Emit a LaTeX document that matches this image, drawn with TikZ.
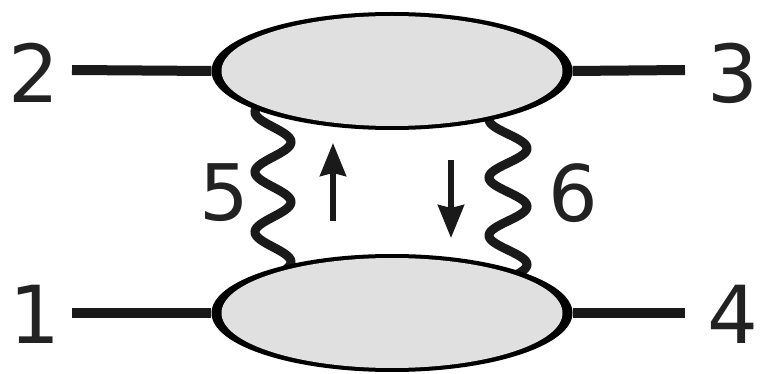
\documentclass[tikz,border=0pt]{standalone}
\usepackage{fontspec}
\setmainfont{DejaVu Sans}
\usetikzlibrary{shapes.geometric,arrows.meta}
\definecolor{blobfill}{RGB}{224,224,224}
\definecolor{ink}{RGB}{26,26,26}
\definecolor{txt}{RGB}{34,34,34}
\tikzset{
  blob/.style={ellipse, fill=black, minimum width=361pt, minimum height=118pt, inner sep=0pt},
  blobin/.style={ellipse, fill=blobfill, minimum width=341pt, minimum height=110pt, inner sep=0pt},
  leg/.style={draw=ink, line width=10pt},
  num/.style={text=txt, font=\fontsize{80}{80}\selectfont, inner sep=0pt, anchor=center},
  small/.style={text=txt, font=\fontsize{78}{78}\selectfont, inner sep=0pt, anchor=center},
  wave/.style={draw=ink, line width=9pt, line cap=round},
  mom/.style={draw=ink, line width=5.5pt, -{Stealth[length=33pt,width=26pt,inset=3pt]}}
}
\begin{document}
\begin{tikzpicture}[x=1pt,y=-1pt]
\useasboundingbox (0,0) rectangle (761,374);
% wavy lines (drawn first, under the blobs)
\coordinate (w5a) at (273,97);
\coordinate (w6a) at (508,105);
\begin{scope}[shift={(w5a)}]
  \draw[wave] plot[domain=0:180, samples=160, smooth] ({-18*sin(6*\x)}, {\x});
\end{scope}
\begin{scope}[shift={(w6a)}]
  \draw[wave] plot[domain=0:175, samples=160, smooth] ({-19*sin(6.2069*\x)}, {\x});
\end{scope}
% blobs
\node[blob] (top) at (392,71) {};
\node[blobin] (topin) at (top.center) {};
\node[blob] (bot) at (392,313) {};
\node[blobin] (botin) at (bot.center) {};
% external legs
\coordinate (c2) at (72,70);
\coordinate (c3) at (685,70);
\coordinate (c1) at (72,313);
\coordinate (c4) at (685,313);
\draw[leg] (c2) -- (top.west);
\draw[leg] (top.east) -- (c3);
\draw[leg] (c1) -- (bot.west);
\draw[leg] (bot.east) -- (c4);
% labels
\node[num] (n2) at (34,73) {2};
\node[num] (n3) at (733,73) {3};
\node[num] (n1) at (35,314) {1};
\node[num] (n4) at (733,314) {4};
\node[small] (n5) at (224,193) {5};
\node[small] (n6) at (573,193) {6};
% momentum arrows
\coordinate (a1) at (333,221);
\coordinate (a2) at (333,143);
\coordinate (b1) at (451,160);
\coordinate (b2) at (451,238);
\draw[mom] (a1) -- (a2);
\draw[mom] (b1) -- (b2);
\end{tikzpicture}
\end{document}
